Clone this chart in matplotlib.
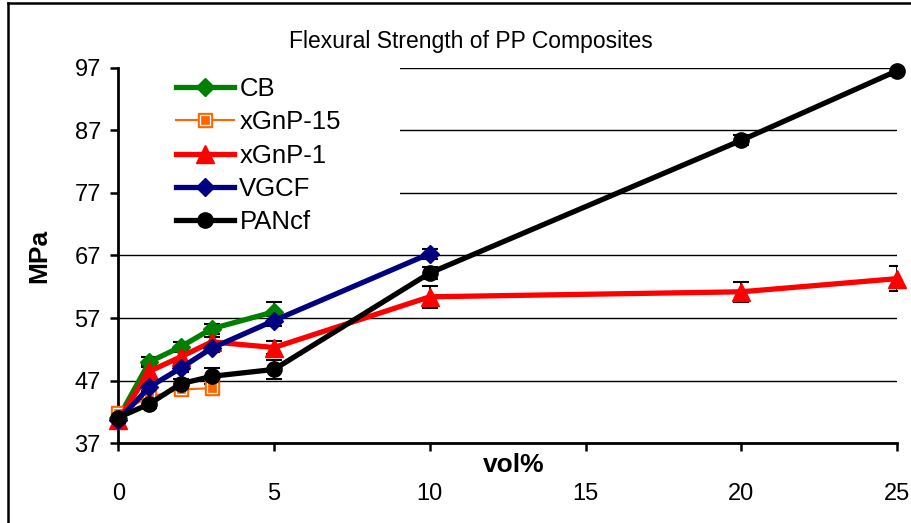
import matplotlib
matplotlib.use('Agg')
import matplotlib.pyplot as plt
from matplotlib.patches import Rectangle
from matplotlib.lines import Line2D

plt.rcParams['font.family'] = ['Liberation Sans', 'DejaVu Sans']

# data (vol% vs flexural strength in MPa)
cb_x = [0, 1, 2, 3, 5]
cb_y = [41.0, 50.0, 52.4, 55.3, 58.0]
cb_err = [0.5, 0.8, 0.8, 0.8, 1.6]

xgnp15_x = [0, 1, 2, 3]
xgnp15_y = [41.9, 44.4, 45.6, 45.8]

xgnp1_x = [0, 1, 2, 3, 5, 10, 20, 25]
xgnp1_y = [40.7, 48.5, 50.8, 53.2, 52.3, 60.4, 61.2, 63.3]
xgnp1_err = [0.5, 1.0, 1.0, 0.8, 1.0, 1.8, 1.6, 2.0]

vgcf_x = [0, 1, 2, 3, 5, 10]
vgcf_y = [40.7, 46.0, 49.0, 52.2, 56.6, 67.3]
vgcf_err = [0.4, 0.6, 0.6, 0.6, 0.8, 0.8]

pancf_x = [0, 1, 2, 3, 5, 10, 20, 25]
pancf_y = [41.1, 43.3, 46.5, 47.7, 48.8, 64.2, 85.4, 96.5]
pancf_err = [0.4, 0.6, 0.8, 1.3, 1.5, 1.0, 0.8, 0.8]

x_ticks = [0, 5, 10, 15, 20, 25]
y_ticks = [37, 47, 57, 67, 77, 87, 97]

fig = plt.figure(figsize=(9.12, 5.23), dpi=100)
ax = fig.add_axes([0.1297, 0.1524, 0.8539, 0.7182])

ebar = dict(fmt='none', ecolor='black', elinewidth=1.3, capsize=6, capthick=1.5, zorder=2)
ax.errorbar(cb_x, cb_y, yerr=cb_err, **ebar)
ax.errorbar(xgnp1_x, xgnp1_y, yerr=xgnp1_err, **ebar)
ax.errorbar(vgcf_x, vgcf_y, yerr=vgcf_err, **ebar)
ax.errorbar(pancf_x, pancf_y, yerr=pancf_err, **ebar)

l_cb, = ax.plot(cb_x, cb_y, color='#008000', lw=3.8, marker='D', ms=9.5,
                label='CB', zorder=3, clip_on=False)
l_x15, = ax.plot(xgnp15_x, xgnp15_y, color='#FF6600', lw=1.5, marker='s', ms=10.5,
                 label='xGnP-15', zorder=3, clip_on=False)
l_x15w, = ax.plot(xgnp15_x, xgnp15_y, ls='none', marker='s', ms=6.5, mfc='none',
                  mec='white', mew=0.9, zorder=3, clip_on=False)
l_x1, = ax.plot(xgnp1_x, xgnp1_y, color='#FF0000', lw=3.8, marker='^', ms=13,
                label='xGnP-1', zorder=3, clip_on=False)
l_vg, = ax.plot(vgcf_x, vgcf_y, color='#000080', lw=3.8, marker='D', ms=9.5,
                label='VGCF', zorder=3, clip_on=False)
l_pan, = ax.plot(pancf_x, pancf_y, color='black', lw=3.8, marker='o', ms=11,
                 label='PANcf', zorder=3, clip_on=False)

ax.set_xlim(0, 25)
ax.set_ylim(37, 97)
ax.set_xticks(x_ticks)
ax.set_yticks(y_ticks)
ax.yaxis.grid(True, color='black', lw=1)
ax.set_axisbelow(True)
for s in ['top', 'right']:
    ax.spines[s].set_visible(False)
for s in ['left', 'bottom']:
    ax.spines[s].set_linewidth(2)
ax.tick_params(axis='both', direction='out', length=5.5, width=1.8, labelsize=17)
ax.tick_params(axis='x', pad=23)
ax.tick_params(axis='y', pad=7)

ax.set_xlabel('vol%', fontsize=19, fontweight='bold')
ax.xaxis.set_label_coords(0.508, -0.027)
ax.set_ylabel('MPa', fontsize=19, fontweight='bold')
ax.yaxis.set_label_coords(-0.0855, 0.5)

# white legend area hides the gridlines behind it
ax.add_patch(Rectangle((0, 0.555), 0.362, 0.46, transform=ax.transAxes,
                       facecolor='white', edgecolor='none', zorder=1, clip_on=False))
ax.legend([l_cb, (l_x15, l_x15w), l_x1, l_vg, l_pan],
          ['CB', 'xGnP-15', 'xGnP-1', 'VGCF', 'PANcf'],
          loc='upper left', bbox_to_anchor=(0.074, 0.975), frameon=False,
          fontsize=18.5, handlelength=2.25, handletextpad=0.22, labelspacing=0.36,
          borderpad=0, borderaxespad=0)

fig.text(0.5167, 0.92, 'Flexural Strength of PP Composites', fontsize=16.5,
         ha='center', va='center')

# outer chart border (left and top edges visible)
fig.add_artist(Line2D([0.009, 0.009], [0, 0.994], color='black', lw=1.8))
fig.add_artist(Line2D([0.009, 1], [0.994, 0.994], color='black', lw=1.8))

fig.savefig('out.png', dpi=100)
